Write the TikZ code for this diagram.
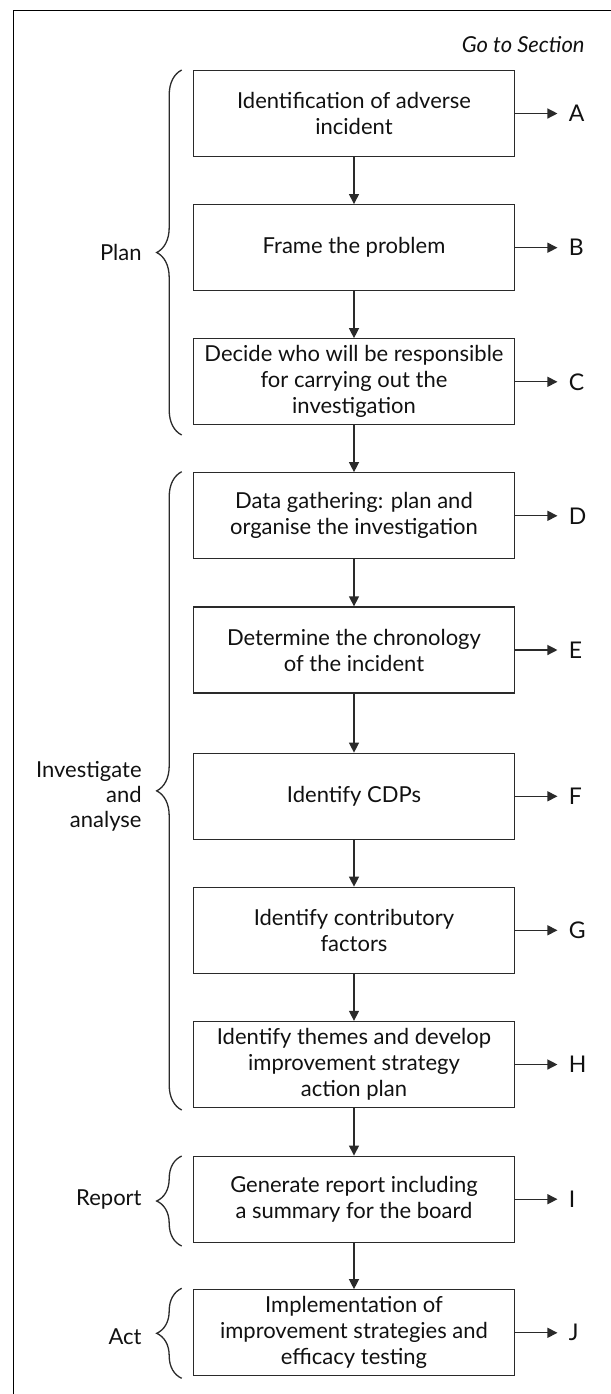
\documentclass[tikz,border=0pt]{standalone}
\usepackage{fontspec}
\setmainfont{Lato}
\usetikzlibrary{arrows.meta,decorations.pathreplacing}

\definecolor{linegray}{HTML}{2A2A2A}
\definecolor{textgray}{HTML}{111111}

\tikzset{
	stepbox/.style={draw=linegray, line width=0.65pt, minimum width=160.8pt, minimum height=43pt,
		inner sep=0pt, align=center, text=textgray, font=\fontsize{11}{13}\selectfont},
	flow/.style={draw=linegray, line width=0.65pt, -{Triangle[length=5pt,width=5pt]}},
	seclabel/.style={anchor=west, inner xsep=5.5pt, inner ysep=0pt, text=textgray,
		font=\fontsize{11.5}{13}\selectfont},
	phase/.style={anchor=east, align=right, inner sep=0pt, text=textgray,
		font=\fontsize{11}{12.5}\selectfont},
	phasebrace/.style={draw=linegray, line width=0.65pt, decorate,
		decoration={brace, amplitude=12.5pt}}
}

\begin{document}
\begin{tikzpicture}[x=0.5pt, y=-0.5pt]
	\useasboundingbox (0,0) rectangle (611,1394);
	
	% outer frame (cut off at right and bottom)
	\draw[line width=0.75pt] (13.3,1394) |- (611,10.7);
	
	\node[anchor=east, inner sep=0pt, text=textgray, font=\fontsize{11}{13}\selectfont\itshape]
		(goto) at (585,45) {Go to Section};
	
	% steps
	\node[stepbox] (incident) at (354,113.5) {Identification of adverse\\incident};
	\node[stepbox] (problem) at (354,247.7) {Frame the problem};
	\node[stepbox] (responsible) at (354,381.8) {Decide who will be responsible\\for carrying out the\\investigation};
	\node[stepbox] (gathering) at (354,515.8) {Data gathering: plan and\\organise the investigation};
	\node[stepbox] (chronology) at (354,650) {Determine the chronology\\of the incident};
	\node[stepbox] (cdps) at (354,796.3) {Identify CDPs};
	\node[stepbox] (factors) at (354,930.3) {Identify contributory\\factors};
	\node[stepbox] (themes) at (354,1064.5) {Identify themes and develop\\improvement strategy\\action plan};
	\node[stepbox] (report) at (354,1199.2) {Generate report including\\a summary for the board};
	\node[stepbox] (act) at (354,1332.8) {Implementation of\\improvement strategies and\\efficacy testing};
	
	% arrows between the steps
	\foreach \a/\b in {incident/problem, problem/responsible, responsible/gathering,
		gathering/chronology, chronology/cdps, cdps/factors, factors/themes,
		themes/report, report/act} {
		\draw[flow] (\a) -- (\b);
	}
	
	% go to section A-J
	\foreach \n/\s in {incident/A, problem/B, responsible/C, gathering/D, chronology/E,
		cdps/F, factors/G, themes/H, report/I, act/J} {
		\node[seclabel] (sec\s) at ([xshift=21pt]\n.east) {\s};
		\draw[flow] (\n.east) -- (sec\s.west);
	}
	
	% phases with braces
	\draw[phasebrace] (181.7,435) -- (181.7,70);
	\node[phase] (plan) at (142,252) {Plan};
	
	\draw[phasebrace] (181.7,1110) -- (181.7,471.7);
	\node[phase] (investigate) at (142,796) {Investigate\\and\\analyse};
	
	\draw[phasebrace] (181.7,1246) -- (181.7,1156);
	\node[phase] (reportphase) at (142,1199) {Report};
	
	\draw[phasebrace] (181.7,1378.3) -- (181.7,1288.3);
	\node[phase] (actphase) at (142,1337) {Act};
\end{tikzpicture}
\end{document}
